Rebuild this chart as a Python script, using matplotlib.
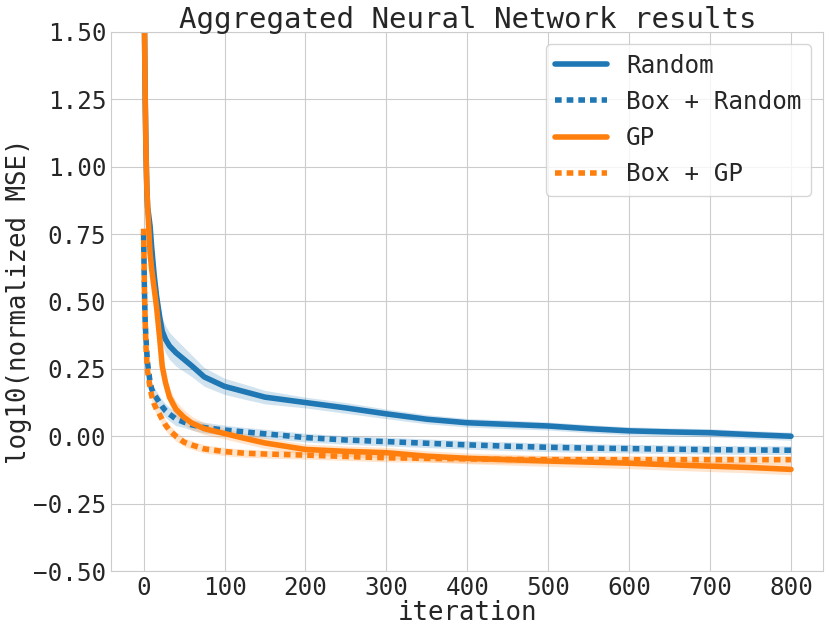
import numpy as np
import matplotlib
matplotlib.use("Agg")
import matplotlib.pyplot as plt
import seaborn as sns

# iterations at which the curves were read
iters = [0, 1, 2, 3, 4, 5, 8, 10, 13, 16, 20, 23, 27, 32, 40, 50, 60, 75, 100, 125, 150,
         200, 250, 300, 350, 400, 450, 500, 550, 600, 650, 700, 750, 800]

random_mean = [1.95, 1.55, 1.25, 1.05, 0.92, 0.85, 0.78, 0.70, 0.60, 0.52, 0.44, 0.39,
               0.36, 0.335, 0.31, 0.285, 0.26, 0.22, 0.185, 0.165, 0.145,
               0.125, 0.105, 0.083, 0.063, 0.050, 0.044, 0.038, 0.028, 0.020, 0.016,
               0.013, 0.006, 0.0]
random_err = [0.04, 0.04, 0.04, 0.04, 0.04, 0.04, 0.05, 0.05, 0.05, 0.05, 0.05, 0.05,
              0.05, 0.05, 0.05, 0.045, 0.04, 0.035, 0.03, 0.028, 0.025,
              0.02, 0.02, 0.018, 0.017, 0.016, 0.016, 0.015, 0.015, 0.015, 0.015,
              0.015, 0.015, 0.015]

box_random_mean = [0.75, 0.55, 0.42, 0.36, 0.31, 0.27, 0.20, 0.175, 0.155, 0.142, 0.123,
                   0.11, 0.095, 0.082, 0.064, 0.052, 0.042, 0.032, 0.023, 0.016, 0.009,
                   -0.005, -0.014, -0.020, -0.026, -0.032, -0.037, -0.041, -0.044,
                   -0.046, -0.048, -0.050, -0.051, -0.052]
box_random_err = [0.03, 0.03, 0.03, 0.03, 0.03, 0.03, 0.025, 0.025, 0.025, 0.025, 0.025,
                  0.025, 0.025, 0.025, 0.025, 0.02, 0.02, 0.02, 0.018, 0.017, 0.017,
                  0.016, 0.016, 0.016, 0.016, 0.016, 0.016, 0.016, 0.016,
                  0.016, 0.016, 0.016, 0.016, 0.016]

gp_mean = [1.95, 1.55, 1.25, 1.05, 0.92, 0.85, 0.68, 0.62, 0.55, 0.48, 0.36, 0.26,
           0.20, 0.145, 0.10, 0.07, 0.048, 0.028, 0.010, -0.008, -0.025,
           -0.049, -0.056, -0.061, -0.074, -0.082, -0.087, -0.092, -0.096, -0.100,
           -0.106, -0.111, -0.116, -0.123]
gp_err = [0.04, 0.04, 0.04, 0.04, 0.04, 0.04, 0.04, 0.04, 0.04, 0.04, 0.035, 0.033,
          0.03, 0.03, 0.03, 0.028, 0.025, 0.022, 0.02, 0.02, 0.02,
          0.02, 0.02, 0.02, 0.02, 0.02, 0.02, 0.02, 0.02, 0.02,
          0.02, 0.02, 0.02, 0.02]

box_gp_mean = [0.77, 0.55, 0.42, 0.33, 0.28, 0.24, 0.18, 0.15, 0.12, 0.10, 0.08, 0.062,
               0.042, 0.022, 0.0, -0.022, -0.033, -0.047, -0.057, -0.063, -0.066,
               -0.070, -0.075, -0.080, -0.082, -0.084, -0.086, -0.087, -0.087, -0.087,
               -0.087, -0.087, -0.087, -0.087]
box_gp_err = [0.03, 0.03, 0.03, 0.03, 0.03, 0.03, 0.025, 0.025, 0.02, 0.02, 0.02, 0.02,
              0.02, 0.02, 0.018, 0.016, 0.016, 0.015, 0.015, 0.015, 0.015,
              0.015, 0.015, 0.015, 0.015, 0.015, 0.015, 0.015, 0.015, 0.015,
              0.015, 0.015, 0.015, 0.015]

azul = "#1f77b4"
naranja = "#ff7f0e"
punteado = (0, (1.2, 0.9))

series = [
    ("Random", random_mean, random_err, azul, "-"),
    ("Box + Random", box_random_mean, box_random_err, azul, punteado),
    ("GP", gp_mean, gp_err, naranja, "-"),
    ("Box + GP", box_gp_mean, box_gp_err, naranja, punteado),
]

sns.set_style("whitegrid")
plt.rcParams["font.family"] = ["DejaVu Sans Mono"]
plt.rcParams["font.size"] = 17.5

fig = plt.figure(figsize=(8.3, 6.32), dpi=100)
ax = fig.add_axes([0.134, 0.0965, 0.858, 0.853])

x = np.array(iters)
for nombre, media, err, color, estilo in series:
    media = np.array(media)
    err = np.array(err)
    ax.fill_between(x, media - err, media + err, color=color, alpha=0.2, lw=0)
    ax.plot(x, media, color=color, linestyle=estilo, lw=4, label=nombre)

ax.set_ylim(-0.5, 1.5)
ax.set_yticks(np.arange(-0.5, 1.51, 0.25))
ax.yaxis.set_major_formatter(
    matplotlib.ticker.FuncFormatter(lambda v, p: f"{v:.2f}".replace("-", "\u2212")))
ax.set_xticks(np.arange(0, 801, 100))
ax.tick_params(labelsize=17.5, length=0, pad=3.6)
ax.set_xlabel("iteration", fontsize=18.5, labelpad=0)
ax.set_ylabel("log10(normalized MSE)", fontsize=18.5, labelpad=1)
ax.set_title("Aggregated Neural Network results", fontsize=21, pad=3)
ax.legend(loc="upper right", fontsize=17.5, handlelength=2.1, labelspacing=0.5)

fig.savefig("out.png", dpi=100)
